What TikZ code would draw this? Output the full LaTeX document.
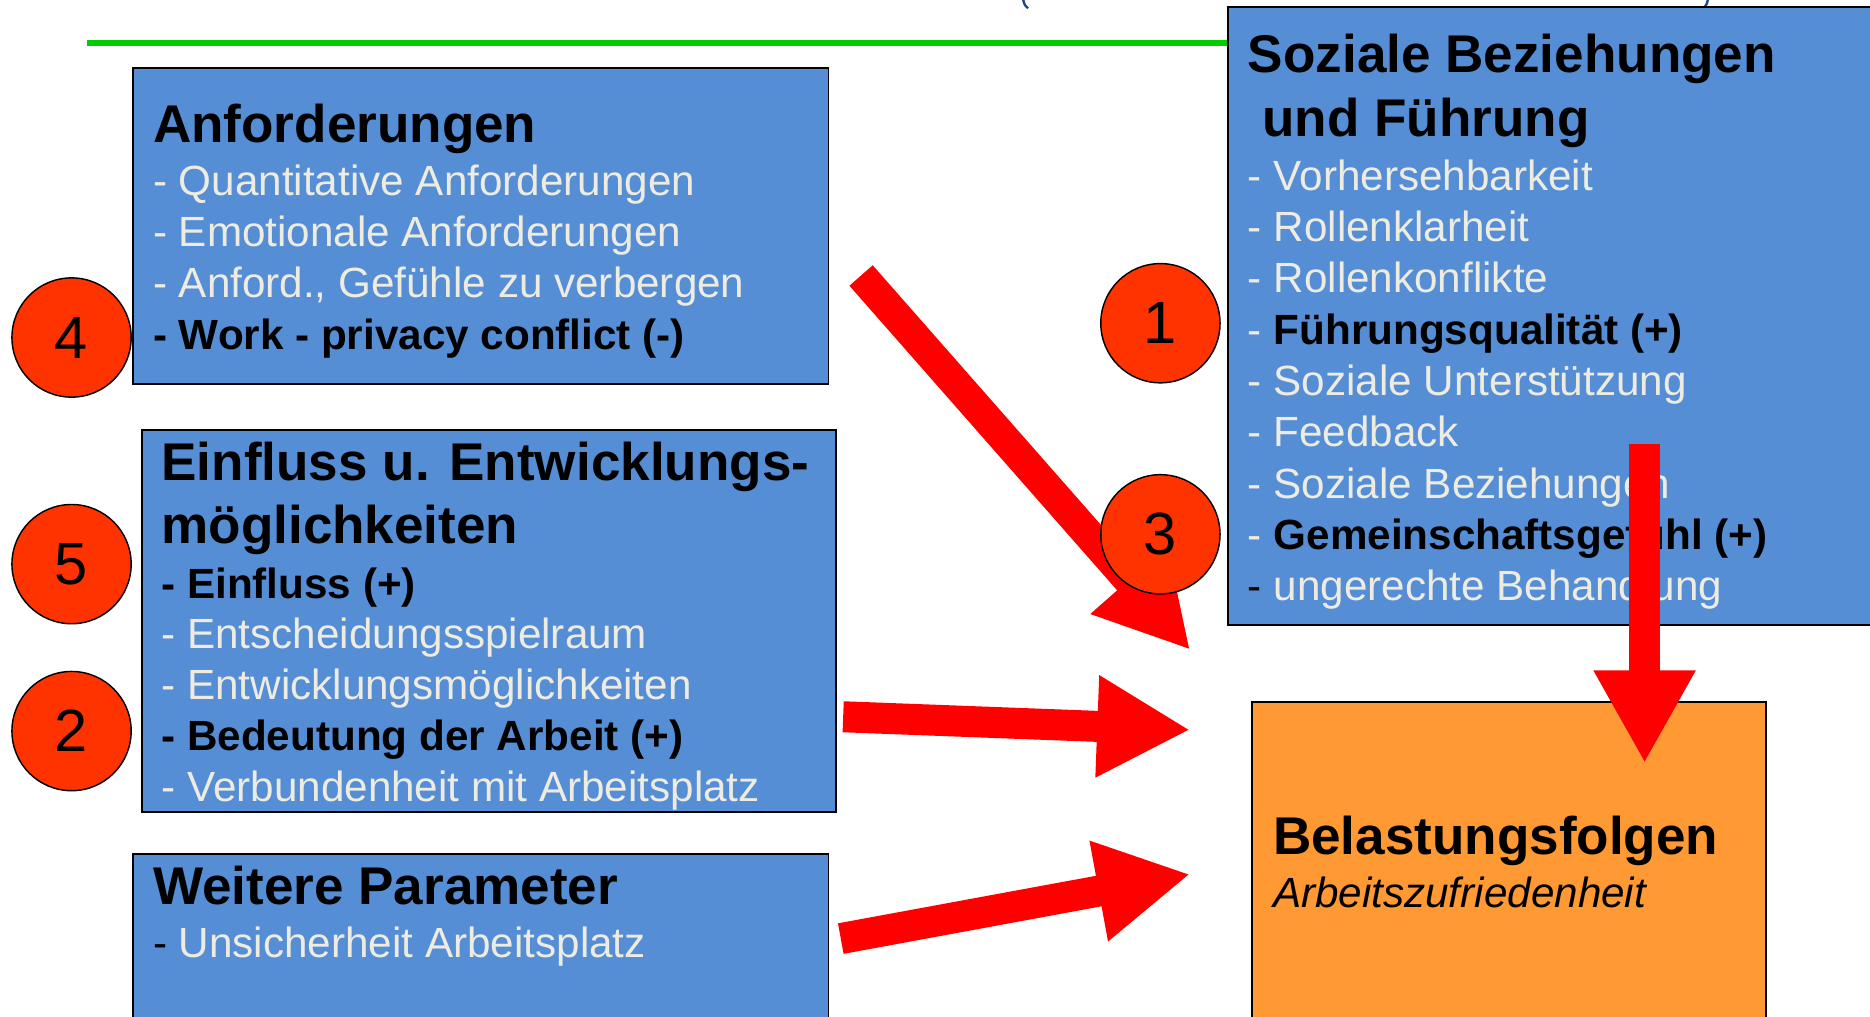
\documentclass[tikz,border=0pt]{standalone}
\usepackage{fontspec}
\setmainfont{Liberation Sans}
\usetikzlibrary{arrows.meta,shapes}
\definecolor{boxblue}{HTML}{558ED5}
\definecolor{beige}{HTML}{EEECE1}
\definecolor{circred}{HTML}{FF3300}
\definecolor{arrowred}{HTML}{FF0000}
\definecolor{linegreen}{HTML}{00CC00}
\definecolor{orangebox}{HTML}{FF9933}
\definecolor{titleblue}{HTML}{1F497D}
\newcommand\ttlfont{\fontsize{22.25pt}{27pt}\selectfont\bfseries}
\newcommand\itmfont{\fontsize{17.7pt}{21.5pt}\selectfont\lineskiplimit=-50pt\relax}
\newcommand\litem[1]{\textcolor{beige}{- #1}}   % helle Zeile
\newcommand\bitem[1]{\textbf{- #1}}              % fette Zeile
\newcommand\ditem[1]{- \textcolor{beige}{#1}}   % schwarzer Strich
\newcommand\gitem[1]{\textcolor{beige}{-} \textbf{#1}}

\begin{document}
\begin{tikzpicture}[x=0.5pt,y=-0.5pt,
	bluebox/.style={rectangle,draw=black,line width=0.75pt,fill=boxblue,anchor=north west,inner sep=0pt},
	boxtext/.style={anchor=north west,align=left,inner sep=0pt,font=\itmfont},
	numcirc/.style={circle,draw=black,line width=0.6pt,fill=circred,minimum size=50pt,inner sep=0pt,font=\fontsize{25pt}{30pt}\selectfont},
	bigarrow/.style={draw=arrowred,line width=13pt,-{Triangle[length=39pt,width=40pt]}}]
		\clip (0,0) rectangle (1568,852);
		% Titelreste und gruene Linie
		\draw[titleblue,line width=1pt] (858,0) .. controls (859,4) .. (862,7);
		\draw[titleblue,line width=1pt] (1432,0) .. controls (1431,4) .. (1428,7);
		\draw[linegreen,line width=2.5pt] (73,36) -- (1030,36);
		% Kaesten
		\node[bluebox,minimum width=291.5pt,minimum height=132.5pt] (anf) at (111,56) {};
		\node[bluebox,minimum width=291pt,minimum height=160pt] (einf) at (118,360) {};
		\node[bluebox,minimum width=291.5pt,minimum height=100pt] (weit) at (111,715) {};
		\node[bluebox,minimum width=300pt,minimum height=259pt] (soz) at (1029,5) {};
		\node[bluebox,fill=orangebox,minimum width=215.5pt,minimum height=150pt] (bel) at (1049,588) {};
		% Texte
		\node[boxtext] (anf-txt) at (128,86.5) {{\ttlfont Anforderungen}\\[0.75pt]
			\litem{Quantitative Anforderungen}\\
			\litem{Emotionale Anforderungen}\\
			\litem{Anford., Gefühle zu verbergen}\\
			\bitem{Work - privacy conflict (-)}};
		\node[boxtext] (einf-txt) at (135,370) {{\ttlfont Einfluss u. Entwicklungs-}\\[5pt]
			{\ttlfont möglichkeiten}\\[1.5pt]
			\bitem{Einfluss (+)}\\[-0.25pt]
			\litem{Entscheidungsspielraum}\\[-0.25pt]
			\litem{Entwicklungsmöglichkeiten}\\[-0.25pt]
			\bitem{Bedeutung der Arbeit (+)}\\[-0.25pt]
			\litem{Verbundenheit mit Arbeitsplatz}};
		\node[boxtext] (weit-txt) at (128,726) {{\ttlfont Weitere Parameter}\\[0.75pt]
			\ditem{Unsicherheit Arbeitsplatz}};
		\node[boxtext] (soz-txt) at (1046,28) {{\ttlfont Soziale Beziehungen}\\[5.5pt]
			{\ttlfont\hspace*{6pt}und Führung}\\[1pt]
			\litem{Vorhersehbarkeit}\\
			\litem{Rollenklarheit}\\
			\litem{Rollenkonflikte}\\
			\gitem{Führungsqualität (+)}\\
			\litem{Soziale Unterstützung}\\
			\litem{Feedback}\\
			\litem{Soziale Beziehungen}\\
			\gitem{Gemeinschaftsgefühl (+)}\\
			\ditem{ungerechte Behandlung}};
		\node[boxtext] (bel-txt) at (1067,684) {{\ttlfont Belastungsfolgen}\\[0.75pt]
			\textit{Arbeitszufriedenheit}};
		% Pfeile
		\coordinate (anf-out) at (722,231);
		\coordinate (einf-out) at (707,601);
		\coordinate (weit-out) at (705,787);
		\coordinate (soz-out) at (1379,372);
		\coordinate (bel-in1) at (998,545);
		\coordinate (bel-in2) at (998,612);
		\coordinate (bel-in3) at (998,733);
		\coordinate (bel-in4) at (1379,640);
		\draw[bigarrow] (anf-out) -- (bel-in1);
		\draw[bigarrow] (einf-out) -- (bel-in2);
		\draw[bigarrow] (weit-out) -- (bel-in3);
		\draw[bigarrow] (soz-out) -- (bel-in4);
		% Nummern
		\node[numcirc] (n4) at (60,283) {4};
		\node[numcirc] (n5) at (60,473) {5};
		\node[numcirc] (n2) at (60,613) {2};
		\node[numcirc] (n1) at (973,271) {1};
		\node[numcirc] (n3) at (973,448) {3};
		\end{tikzpicture}
\end{document}
